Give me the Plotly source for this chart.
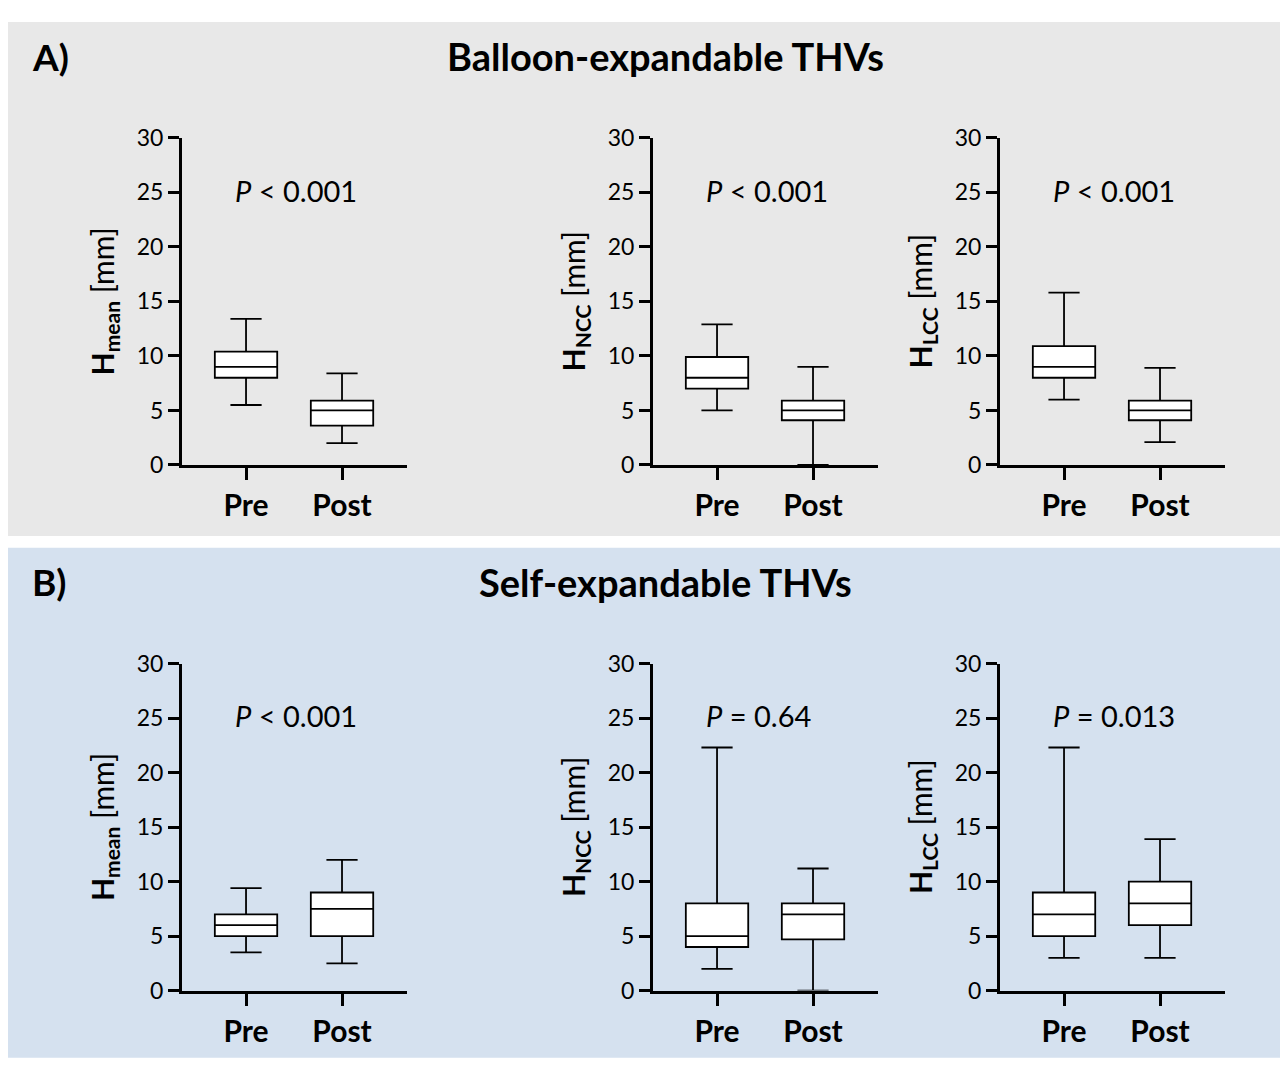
import plotly.graph_objects as go

W, H = 1288, 1071
PAD = 8  # default page body margin
FW, FH = W - 2 * PAD, H - 2 * PAD

groups = ["Pre", "Post"]
ticks_y = [0, 5, 10, 15, 20, 25, 30]

# Panel A: Balloon-expandable THVs
a_mean_low = [5.5, 2.0]; a_mean_q1 = [8.0, 3.6]; a_mean_med = [9.0, 5.0]; a_mean_q3 = [10.4, 5.9]; a_mean_high = [13.4, 8.4]
a_ncc_low = [5.0, 0.0]; a_ncc_q1 = [7.0, 4.1]; a_ncc_med = [8.0, 5.0]; a_ncc_q3 = [9.9, 5.9]; a_ncc_high = [12.9, 9.0]
a_lcc_low = [6.0, 2.1]; a_lcc_q1 = [8.0, 4.1]; a_lcc_med = [9.0, 5.0]; a_lcc_q3 = [10.9, 5.9]; a_lcc_high = [15.8, 8.9]
# Panel B: Self-expandable THVs
b_mean_low = [3.5, 2.5]; b_mean_q1 = [5.0, 5.0]; b_mean_med = [6.0, 7.5]; b_mean_q3 = [7.0, 9.0]; b_mean_high = [9.4, 12.0]
b_ncc_low = [2.0, 0.0]; b_ncc_q1 = [4.0, 4.7]; b_ncc_med = [5.0, 7.0]; b_ncc_q3 = [8.0, 8.0]; b_ncc_high = [22.3, 11.2]
b_lcc_low = [3.0, 3.0]; b_lcc_q1 = [5.0, 6.0]; b_lcc_med = [7.0, 8.0]; b_lcc_q3 = [9.0, 10.0]; b_lcc_high = [22.3, 13.9]

p_values = ["<i>P</i> &lt; 0.001", "<i>P</i> &lt; 0.001", "<i>P</i> &lt; 0.001",
            "<i>P</i> &lt; 0.001", "<i>P</i> = 0.64", "<i>P</i> = 0.013"]
y_titles = ["<b>H<sub>mean</sub></b> [mm]", "<b>H<sub>NCC</sub></b> [mm]", "<b>H<sub>LCC</sub></b> [mm]"] * 2
panel_titles = ["Balloon-expandable THVs", "Self-expandable THVs"]
panel_labels = ["A)", "B)"]

stats = [
    (a_mean_low, a_mean_q1, a_mean_med, a_mean_q3, a_mean_high),
    (a_ncc_low, a_ncc_q1, a_ncc_med, a_ncc_q3, a_ncc_high),
    (a_lcc_low, a_lcc_q1, a_lcc_med, a_lcc_q3, a_lcc_high),
    (b_mean_low, b_mean_q1, b_mean_med, b_mean_q3, b_mean_high),
    (b_ncc_low, b_ncc_q1, b_ncc_med, b_ncc_q3, b_ncc_high),
    (b_lcc_low, b_lcc_q1, b_lcc_med, b_lcc_q3, b_lcc_high),
]

FONT = "Lato"
col_left = [182, 653, 1000]   # y-axis pixel x (page coords)
col_w = 225
row_top = [126, 666]          # pixel y of value 30
row_bot = [462, 1002]         # pixel y of value 0

def px(x):
    return (x - PAD) / FW

def py(y):
    return 1 - (y - PAD) / FH

fig = go.Figure()
layout = {}
annotations = []

for i, (lo, q1, med, q3, hi) in enumerate(stats):
    r, c = divmod(i, 3)
    n = i + 1
    xa = "x" if n == 1 else f"x{n}"
    ya = "y" if n == 1 else f"y{n}"
    fig.add_trace(go.Box(
        x=groups, q1=q1, median=med, q3=q3, lowerfence=lo, upperfence=hi,
        xaxis=xa, yaxis=ya, width=0.65, whiskerwidth=0.5,
        fillcolor="white", line=dict(color="black", width=1.8),
        boxpoints=False, showlegend=False, hoverinfo="skip",
    ))
    layout[f"xaxis{'' if n == 1 else n}"] = dict(
        domain=[px(col_left[c]), px(col_left[c] + col_w)],
        anchor=ya, type="category", range=[-0.667, 1.677],
        showline=True, linewidth=3, linecolor="black",
        ticks="outside", ticklen=12, tickwidth=3, tickcolor="black",
        tickfont=dict(family=FONT, size=30, color="black", weight="bold"),
        showgrid=False, zeroline=False, fixedrange=True,
    )
    layout[f"yaxis{'' if n == 1 else n}"] = dict(
        domain=[py(row_bot[r]), py(row_top[r])],
        anchor=xa, range=[0, 30], tickvals=ticks_y,
        showline=True, linewidth=3, linecolor="black",
        ticks="outside", ticklen=11, tickwidth=3, tickcolor="black",
        tickfont=dict(family=FONT, size=23, color="black"),
        showgrid=False, zeroline=False, fixedrange=True,
    )
    annotations.append(dict(
        xref=xa, yref=ya, x=-0.14, y=25.2, xanchor="left", yanchor="middle",
        text=p_values[i], showarrow=False,
        font=dict(family=FONT, size=29, color="black"),
    ))
    annotations.append(dict(
        xref="paper", yref="paper", x=px(col_left[c] - 78), y=py((row_top[r] + row_bot[r]) / 2),
        xanchor="center", yanchor="middle", textangle=-90,
        text=y_titles[i], showarrow=False,
        font=dict(family=FONT, size=30, color="black"),
    ))

shapes = [
    dict(type="rect", xref="paper", yref="paper", x0=px(6), x1=px(1282), y0=py(535), y1=py(7),
         fillcolor="#e8e8e8", line=dict(width=0), layer="below"),
    dict(type="rect", xref="paper", yref="paper", x0=px(6), x1=px(1282), y0=py(1071), y1=py(547),
         fillcolor="#d5e1ef", line=dict(width=0), layer="below"),
]

for k, ty in enumerate([42, 582]):
    annotations.append(dict(
        xref="paper", yref="paper", x=px(665), y=py(ty), xanchor="center", yanchor="middle",
        text=f"<b>{panel_titles[k]}</b>", showarrow=False,
        font=dict(family=FONT, size=38, color="black"),
    ))
    annotations.append(dict(
        xref="paper", yref="paper", x=px(30), y=py(ty), xanchor="left", yanchor="middle",
        text=f"<b>{panel_labels[k]}</b>", showarrow=False,
        font=dict(family=FONT, size=37, color="black"),
    ))

fig.update_layout(
    width=FW, height=FH, margin=dict(l=0, r=0, t=0, b=0),
    paper_bgcolor="white", plot_bgcolor="rgba(0,0,0,0)",
    shapes=shapes, annotations=annotations, **layout,
)

fig.write_html("out.html")
